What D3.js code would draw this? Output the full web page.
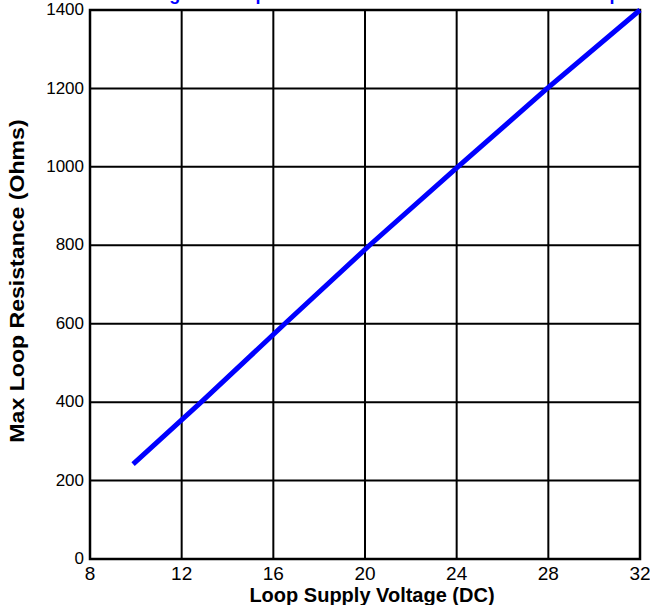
<!DOCTYPE html>
<html><head><meta charset="utf-8">
<script src="https://cdn.jsdelivr.net/npm/d3@7"></script>
<style>body{margin:0;background:#fff} svg{display:block}</style>
</head><body><svg id="c" width="650" height="605"></svg>
<script>
const xTicks = [8, 12, 16, 20, 24, 28, 32];
const yTicks = [0, 200, 400, 600, 800, 1000, 1200, 1400];
const voltage = [9.88, 12.85, 16.5, 20.2, 24.05, 27.95, 32];
const resistance = [242, 400, 600, 800, 1000, 1200, 1400];
const titleParts = ["Voltage vs.", "Loop", "Resistance for 4-20 mA Transmitter Loop"];
const xTitle = "Loop Supply Voltage (DC)";
const yTitle = "Max Loop Resistance (Ohms)";

const W = 650, H = 605;
const m = {left: 90, right: 10, top: 10, bottom: 46};
const svg = d3.select("#c");
const font = "'Liberation Sans', Arial, sans-serif";

const x = d3.scaleLinear().domain([8, 32]).range([m.left, W - m.right]);
const y = d3.scaleLinear().domain([0, 1400]).range([H - m.bottom, m.top]);

// title (mostly above the visible area, as in the reference)
const tg = svg.append("g").attr("font-family", font).attr("font-weight", "bold")
  .attr("font-size", 18).attr("fill", "#0000ff");
tg.append("text").attr("x", 126.5).attr("y", -0.5).text(titleParts[0]);
tg.append("text").attr("x", 222.5).attr("y", -0.5).text(titleParts[1]);
tg.append("text").attr("x", 620.5).attr("y", -0.5).attr("text-anchor", "end").text(titleParts[2]);

// grid
const grid = svg.append("g").attr("stroke", "#000").attr("stroke-width", 2);
grid.selectAll("line.v").data(xTicks.slice(1, -1)).join("line")
  .attr("x1", d => x(d)).attr("x2", d => x(d)).attr("y1", y(0)).attr("y2", y(1400));
grid.selectAll("line.h").data(yTicks.slice(1, -1)).join("line")
  .attr("y1", d => y(d)).attr("y2", d => y(d)).attr("x1", x(8)).attr("x2", x(32));

// frame
svg.append("rect").attr("x", x(8)).attr("y", y(1400))
  .attr("width", x(32) - x(8)).attr("height", y(0) - y(1400))
  .attr("fill", "none").attr("stroke", "#000").attr("stroke-width", 2.5);

// line
const pts = voltage.map((v, i) => [v, resistance[i]]);
svg.append("path").datum(pts)
  .attr("d", d3.line().x(d => x(d[0])).y(d => y(d[1])))
  .attr("fill", "none").attr("stroke", "#0000ff").attr("stroke-width", 5);

// y tick labels
svg.append("g").attr("font-family", font).attr("font-size", 17).attr("text-anchor", "end")
  .selectAll("text").data(yTicks).join("text")
  .attr("x", m.left - 6).attr("y", d => y(d)).attr("dy", "0.3em").text(d => d);

// x tick labels
svg.append("g").attr("font-family", font).attr("font-size", 19).attr("text-anchor", "middle")
  .selectAll("text").data(xTicks).join("text")
  .attr("x", d => x(d)).attr("y", H - m.bottom + 21).text(d => d);

// axis titles
svg.append("text").attr("font-family", font).attr("font-weight", "bold").attr("font-size", 20)
  .attr("text-anchor", "middle").attr("x", 372).attr("y", 602).text(xTitle);
svg.append("text").attr("font-family", font).attr("font-weight", "bold").attr("font-size", 21)
  .attr("text-anchor", "middle").attr("transform", "translate(24,281) scale(1,1.1) rotate(-90)").text(yTitle);
</script></body></html>
